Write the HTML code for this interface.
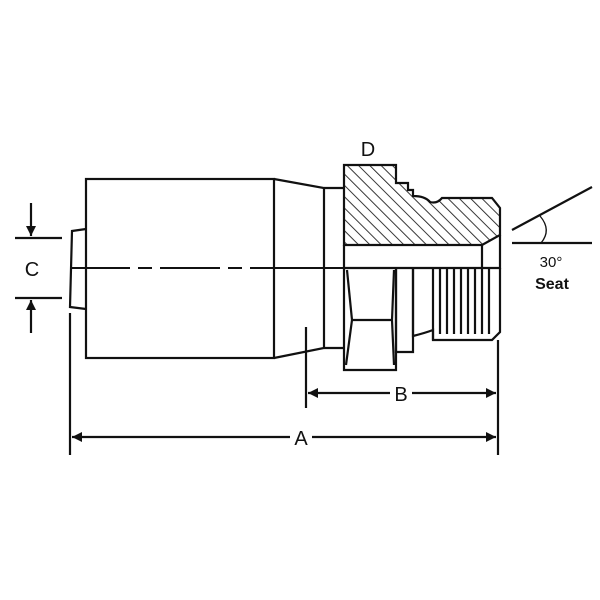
<!DOCTYPE html>
<html><head><style>body{margin:0;background:#fff}svg{display:block}</style></head><body>
<svg width="600" height="600" viewBox="0 0 600 600" xmlns="http://www.w3.org/2000/svg" font-family="Liberation Sans, sans-serif">
<defs>
<pattern id="h" patternUnits="userSpaceOnUse" width="8" height="8" patternTransform="rotate(-45)">
<line x1="0" y1="0" x2="0" y2="8" stroke="#222" stroke-width="1.8"/>
</pattern>
<marker id="ar" markerWidth="10" markerHeight="10" refX="10" refY="5" orient="auto" markerUnits="userSpaceOnUse"><path d="M0,0 L10,5 L0,10z" fill="#111"/></marker>
</defs>
<g stroke="#111" stroke-width="2.2" fill="none">
<rect x="86" y="179" width="188" height="179"/>
<path d="M86,229 L72,231 L70,307 L86,309"/>
<path d="M274,179 L324,188 L324,348 L274,358"/>
<path d="M324,188 L344,188 M324,348 L344,348"/>
<path d="M344,165 L396,165 L396,183 L408,183 L408,190 L413,190 L413,196 Q425,196 430,202 Q437,204 442,198 L492,198 L500,208 L500,235 L482,245 L344,245 Z" fill="url(#h)"/>
<path d="M344,245 L344,268 L500,268 L500,235 M482,245 L482,268"/>
<path d="M344,268 L344,370 L396,370 L396,268"/>
<path d="M347,270 L352,320 L392,320 L394,270 M352,320 L346,365 M392,320 L394,365"/>
<path d="M396,268 L396,352 L413,352 L413,268"/>
<path d="M413,268 L413,336 Q425,333 433,330 L433,340 L492,340 L500,332 L500,268"/>
<path d="M433,268 L433,340 M440,268 L440,334 M447,268 L447,334 M454,268 L454,334 M461,268 L461,334 M468,268 L468,334 M475,268 L475,334 M482,268 L482,334 M489,268 L489,334"/>
<path d="M70,268 L130,268 M138,268 L152,268 M160,268 L220,268 M228,268 L242,268 M250,268 L344,268" stroke-width="2"/>
<path d="M15,238 L62,238 M15,298 L62,298"/>
<line x1="31" y1="203" x2="31" y2="236" marker-end="url(#ar)"/>
<line x1="31" y1="333" x2="31" y2="300" marker-end="url(#ar)"/>
<path d="M70,313 L70,455 M498,340 L498,455 M306,327 L306,408"/>
<line x1="390" y1="393" x2="308" y2="393" marker-end="url(#ar)"/>
<line x1="412" y1="393" x2="496" y2="393" marker-end="url(#ar)"/>
<line x1="290" y1="437" x2="72" y2="437" marker-end="url(#ar)"/>
<line x1="312" y1="437" x2="496" y2="437" marker-end="url(#ar)"/>
<path d="M512,230 L592,187 M512,243 L592,243"/>
<path d="M540,216 Q552,230 541,243" stroke-width="1.3"/>
</g>
<g fill="#111" font-size="20" text-anchor="middle">
<text x="32" y="276">C</text>
<text x="368" y="156">D</text>
<text x="401" y="401">B</text>
<text x="301" y="445">A</text>
<text x="551" y="267" font-size="15">30°</text>
<text x="552" y="289" font-size="16" font-weight="bold">Seat</text>
</g>
</svg>
</body></html>
